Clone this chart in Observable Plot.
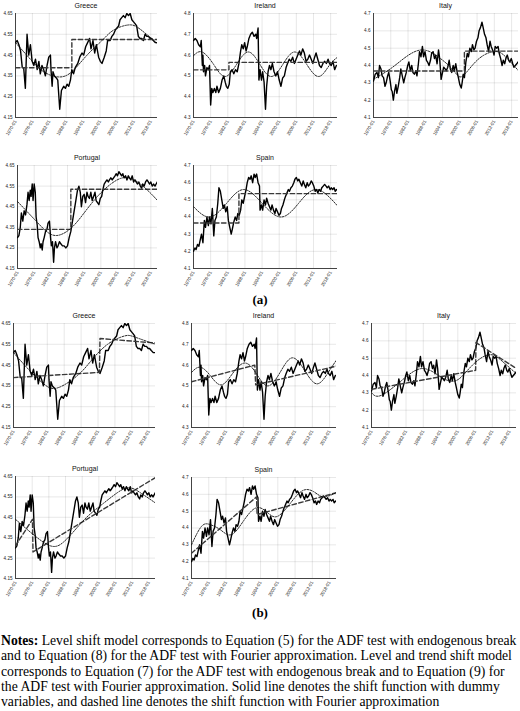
<!DOCTYPE html>
<html><head><meta charset="utf-8">
<script src="https://cdn.jsdelivr.net/npm/d3@7"></script>
<script src="https://cdn.jsdelivr.net/npm/@observablehq/plot@0.6"></script>
<style>
body{margin:0;background:#fff;}
#page{position:relative;width:520px;height:711px;overflow:hidden;background:#fff;font-family:"Liberation Sans",Arial,sans-serif;}
.panel{position:absolute;}
.ttl{position:absolute;font-size:7px;line-height:9px;text-align:center;color:#111;white-space:nowrap;}
.lab{position:absolute;left:0;width:520px;text-align:center;font-family:"Liberation Serif","Times New Roman",serif;font-weight:bold;font-size:13px;line-height:16px;}
#notes{position:absolute;left:1px;top:633px;font-family:"Liberation Serif","Times New Roman",serif;font-size:13.7px;line-height:15.3px;white-space:nowrap;color:#000;}
</style></head>
<body><div id="page"></div>
<script>
// ---------- axes ----------
const xDomain = [1970, 2020.4];
const xTicks = [1970, 1976, 1982, 1988, 1994, 2000, 2006, 2012, 2018];
const yTicksGR = [4.15, 4.25, 4.35, 4.45, 4.55, 4.65];
const yTicksIE = [4.3, 4.4, 4.5, 4.6, 4.7, 4.8];
const yTicksIT = [4.1, 4.2, 4.3, 4.4, 4.5, 4.6, 4.7];
const yTicksPT = [4.15, 4.25, 4.35, 4.45, 4.55, 4.65];
const yTicksES = [4.1, 4.2, 4.3, 4.4, 4.5, 4.6, 4.7];

// ---------- series (log real exchange rate) ----------
const greeceYears = [1970.0,1970.6,1971.2,1971.8,1972.4,1972.9,1973.5,1974.1,1974.7,1975.3,1975.9,1976.5,1977.1,1977.7,1978.3,1978.8,1979.4,1980.0,1980.6,1981.2,1981.8,1982.4,1982.6,1983.0,1983.3,1983.8,1984.5,1985.0,1985.7,1986.3,1987.1,1987.7,1988.3,1988.9,1989.5,1990.0,1990.6,1991.2,1992.1,1992.8,1993.6,1994.2,1994.9,1995.6,1996.3,1996.8,1997.5,1998.1,1998.7,1999.5,2000.1,2000.7,2001.5,2002.2,2002.7,2003.6,2004.2,2004.8,2005.4,2006.0,2006.6,2007.1,2007.7,2008.3,2008.9,2009.5,2010.1,2010.7,2011.3,2011.9,2012.5,2013.0,2013.6,2014.2,2014.8,2015.4,2016.0,2016.6,2017.2,2017.8,2018.3,2018.9,2019.6,2020.1];
const greeceValues = [4.51,4.52,4.50,4.47,4.39,4.39,4.29,4.55,4.45,4.50,4.42,4.40,4.43,4.38,4.42,4.36,4.40,4.38,4.35,4.40,4.44,4.45,4.38,4.30,4.37,4.35,4.34,4.33,4.19,4.28,4.30,4.29,4.31,4.30,4.33,4.38,4.36,4.39,4.41,4.44,4.46,4.45,4.49,4.51,4.53,4.48,4.52,4.46,4.50,4.44,4.42,4.41,4.44,4.47,4.52,4.52,4.54,4.55,4.57,4.58,4.59,4.62,4.63,4.64,4.63,4.65,4.64,4.65,4.62,4.61,4.60,4.59,4.54,4.53,4.53,4.52,4.55,4.54,4.54,4.53,4.53,4.52,4.51,4.51];

const irelandYears = [1970.0,1970.6,1971.2,1971.8,1972.4,1972.7,1973.1,1973.3,1973.5,1973.9,1974.2,1974.7,1975.2,1975.6,1976.0,1976.4,1976.8,1977.3,1977.8,1978.2,1978.8,1979.4,1980.0,1980.6,1981.1,1981.5,1982.0,1982.5,1982.9,1983.5,1984.1,1984.7,1985.3,1985.9,1986.5,1986.9,1987.4,1987.9,1988.4,1988.8,1989.4,1990.0,1990.6,1991.2,1991.8,1992.1,1992.6,1992.9,1993.3,1993.8,1994.2,1994.7,1995.2,1995.6,1996.1,1996.6,1997.1,1997.6,1998.2,1998.8,1999.4,2000.0,2000.6,2001.2,2001.8,2002.4,2002.9,2003.5,2004.1,2004.7,2005.3,2005.9,2006.5,2007.1,2007.6,2008.2,2008.8,2009.4,2010.0,2010.6,2011.2,2011.8,2012.4,2012.9,2013.5,2014.1,2014.7,2015.3,2015.9,2016.5,2017.1,2017.6,2018.2,2018.8,2019.4,2020.0];
const irelandValues = [4.67,4.68,4.67,4.65,4.64,4.67,4.55,4.60,4.52,4.55,4.50,4.54,4.53,4.55,4.36,4.44,4.42,4.44,4.42,4.45,4.42,4.44,4.48,4.50,4.47,4.45,4.44,4.46,4.52,4.53,4.51,4.53,4.52,4.56,4.62,4.65,4.63,4.66,4.62,4.64,4.68,4.70,4.71,4.69,4.70,4.68,4.73,4.48,4.53,4.48,4.52,4.47,4.34,4.45,4.52,4.55,4.53,4.56,4.52,4.50,4.52,4.48,4.45,4.49,4.50,4.54,4.56,4.58,4.57,4.59,4.56,4.58,4.60,4.62,4.60,4.63,4.61,4.57,4.58,4.60,4.58,4.56,4.59,4.61,4.58,4.55,4.54,4.56,4.57,4.56,4.58,4.56,4.55,4.57,4.53,4.55];

const italyYears = [1970.0,1970.6,1971.2,1971.7,1972.1,1972.6,1973.0,1973.5,1974.0,1974.4,1974.9,1975.3,1975.8,1976.2,1976.5,1976.9,1977.3,1977.8,1978.1,1978.6,1979.1,1979.5,1980.0,1980.5,1980.9,1981.4,1981.9,1982.3,1982.8,1983.3,1983.7,1984.2,1984.7,1985.1,1985.6,1986.0,1986.5,1987.0,1987.4,1987.9,1988.4,1988.8,1989.3,1989.8,1990.2,1990.7,1991.2,1991.6,1992.1,1992.6,1993.0,1993.5,1994.0,1994.4,1994.9,1995.3,1995.8,1996.3,1996.7,1997.2,1997.7,1998.1,1998.6,1999.1,1999.5,2000.0,2000.5,2000.8,2001.2,2001.6,2002.1,2002.6,2003.0,2003.5,2004.0,2004.4,2004.9,2005.3,2005.8,2006.3,2006.7,2007.2,2007.7,2008.1,2008.6,2009.1,2009.5,2010.0,2010.5,2010.9,2011.4,2011.9,2012.3,2012.8,2013.3,2013.7,2014.2,2014.7,2015.1,2015.6,2016.0,2016.5,2017.0,2017.4,2017.9,2018.4,2018.8,2019.3,2019.8,2020.2];
const italyValues = [4.31,4.35,4.36,4.33,4.40,4.38,4.34,4.33,4.28,4.30,4.34,4.36,4.31,4.26,4.25,4.20,4.25,4.29,4.24,4.28,4.33,4.38,4.34,4.30,4.33,4.36,4.40,4.42,4.37,4.40,4.36,4.35,4.37,4.34,4.41,4.48,4.45,4.51,4.45,4.48,4.43,4.42,4.40,4.43,4.47,4.48,4.44,4.46,4.41,4.49,4.44,4.32,4.36,4.39,4.38,4.37,4.39,4.43,4.38,4.36,4.40,4.37,4.41,4.36,4.33,4.29,4.27,4.30,4.35,4.33,4.42,4.47,4.45,4.50,4.48,4.52,4.49,4.50,4.54,4.56,4.60,4.62,4.65,4.62,4.58,4.56,4.52,4.48,4.54,4.51,4.49,4.46,4.51,4.50,4.51,4.47,4.44,4.40,4.43,4.41,4.44,4.46,4.43,4.42,4.44,4.41,4.39,4.40,4.41,4.42];

const portugalYears = [1970.0,1970.5,1971.0,1971.4,1971.9,1972.4,1972.9,1973.4,1973.8,1974.2,1974.6,1974.9,1975.3,1975.6,1976.0,1976.4,1976.7,1977.1,1977.4,1977.8,1978.2,1978.5,1978.9,1979.2,1979.6,1980.1,1980.6,1981.0,1981.5,1981.9,1982.2,1982.6,1983.0,1983.3,1983.7,1984.2,1984.6,1985.1,1985.6,1986.2,1986.8,1987.4,1988.0,1988.6,1989.2,1989.8,1990.4,1991.0,1991.6,1992.1,1992.6,1993.0,1993.5,1994.0,1994.5,1995.0,1995.4,1995.9,1996.4,1996.9,1997.4,1997.9,1998.3,1998.8,1999.3,1999.8,2000.3,2000.7,2001.2,2001.7,2002.2,2002.7,2003.1,2003.6,2004.1,2004.6,2005.1,2005.5,2006.0,2006.5,2007.0,2007.5,2007.9,2008.4,2008.9,2009.4,2009.9,2010.3,2010.8,2011.3,2011.8,2012.3,2012.7,2013.2,2013.7,2014.2,2014.7,2015.1,2015.6,2016.1,2016.6,2017.1,2017.5,2018.0,2018.5,2019.0,2019.5,2019.9,2020.3];
const portugalValues = [4.30,4.31,4.35,4.42,4.38,4.43,4.41,4.46,4.52,4.48,4.53,4.50,4.56,4.48,4.56,4.52,4.40,4.36,4.30,4.28,4.25,4.27,4.24,4.28,4.30,4.33,4.34,4.37,4.38,4.30,4.26,4.28,4.18,4.25,4.28,4.25,4.26,4.28,4.27,4.26,4.26,4.25,4.26,4.30,4.33,4.38,4.43,4.48,4.53,4.55,4.52,4.45,4.50,4.51,4.47,4.52,4.50,4.49,4.52,4.48,4.50,4.52,4.48,4.47,4.46,4.49,4.50,4.53,4.56,4.57,4.58,4.57,4.58,4.59,4.58,4.59,4.60,4.61,4.60,4.62,4.61,4.60,4.61,4.59,4.60,4.58,4.60,4.59,4.58,4.60,4.57,4.58,4.57,4.56,4.57,4.55,4.54,4.56,4.55,4.57,4.58,4.57,4.56,4.57,4.55,4.56,4.55,4.56,4.57];

const spainYears = [1970.0,1970.5,1970.9,1971.4,1971.9,1972.4,1972.8,1973.3,1973.8,1974.2,1974.7,1975.2,1975.6,1976.1,1976.6,1977.1,1977.5,1978.0,1978.5,1978.9,1979.4,1979.9,1980.4,1980.8,1981.3,1981.8,1982.2,1982.7,1983.2,1983.6,1984.1,1984.6,1985.1,1985.5,1986.0,1986.5,1986.9,1987.4,1987.9,1988.4,1988.8,1989.3,1989.8,1990.2,1990.7,1991.2,1991.6,1992.1,1992.6,1993.1,1993.3,1993.8,1994.2,1994.7,1995.2,1995.6,1996.1,1996.6,1997.1,1997.5,1998.0,1998.5,1998.9,1999.4,1999.9,2000.4,2000.8,2001.3,2001.8,2002.2,2002.7,2003.2,2003.6,2004.1,2004.6,2005.1,2005.5,2006.0,2006.5,2006.9,2007.4,2007.9,2008.4,2008.8,2009.3,2009.8,2010.2,2010.7,2011.2,2011.6,2012.1,2012.6,2013.1,2013.5,2014.0,2014.5,2014.9,2015.4,2015.9,2016.4,2016.8,2017.3,2017.8,2018.2,2018.7,2019.2,2019.6,2020.1];
const spainValues = [4.20,4.22,4.21,4.24,4.23,4.27,4.30,4.25,4.38,4.34,4.40,4.35,4.40,4.36,4.45,4.29,4.38,4.40,4.48,4.57,4.55,4.50,4.45,4.47,4.43,4.46,4.38,4.34,4.30,4.33,4.37,4.40,4.38,4.42,4.41,4.44,4.50,4.48,4.52,4.56,4.60,4.63,4.62,4.64,4.60,4.65,4.63,4.65,4.60,4.58,4.44,4.47,4.44,4.50,4.47,4.51,4.48,4.46,4.44,4.47,4.44,4.42,4.45,4.43,4.41,4.42,4.45,4.47,4.50,4.52,4.54,4.56,4.55,4.57,4.58,4.60,4.62,4.63,4.61,4.62,4.60,4.58,4.61,4.59,4.57,4.60,4.58,4.59,4.61,4.60,4.58,4.55,4.56,4.54,4.56,4.55,4.57,4.58,4.59,4.58,4.57,4.58,4.56,4.57,4.56,4.57,4.55,4.56];

// ---------- (a) level shift: dummy-break function ----------
const greeceBreakAYears = [1970, 1990.0, 1990.0, 2020.4];
const greeceBreakAValues = [4.389, 4.389, 4.525, 4.525];
const irelandBreakAYears = [1970, 1982.4, 1982.4, 2020.4];
const irelandBreakAValues = [4.529, 4.529, 4.565, 4.565];
const italyBreakAYears = [1970, 2001.6, 2001.6, 2020.4];
const italyBreakAValues = [4.368, 4.368, 4.483, 4.483];
const portugalBreakAYears = [1970, 1989.2, 1989.2, 2020.4];
const portugalBreakAValues = [4.34, 4.34, 4.535, 4.535];
const spainBreakAYears = [1970, 1985.9, 1985.9, 2020.4];
const spainBreakAValues = [4.365, 4.365, 4.536, 4.536];

// ---------- (a) level shift: Fourier function ----------
const greeceFourierAYears = [1970, 1975.3, 1980.0, 1985.3, 1990.0, 1995.4, 2000.7, 2004.8, 2010.1, 2014.2, 2020.4];
const greeceFourierAValues = [4.51, 4.43, 4.37, 4.345, 4.37, 4.45, 4.52, 4.57, 4.595, 4.575, 4.505];
const irelandFourierAYears = [1970, 1973.0, 1977.0, 1981.0, 1985.1, 1989.2, 1993.2, 1997.2, 2001.3, 2005.4, 2009.6, 2013.8, 2017.5, 2020.4];
const irelandFourierAValues = [4.597, 4.615, 4.556, 4.497, 4.556, 4.615, 4.556, 4.497, 4.556, 4.615, 4.556, 4.497, 4.55, 4.59];
const italyFourierAYears = [1970, 1975.8, 1980.5, 1986.9, 1993.3, 1997.9, 2000.5, 2004.3, 2008.4, 2013.0, 2016.5, 2020.4];
const italyFourierAValues = [4.32, 4.38, 4.44, 4.49, 4.44, 4.37, 4.335, 4.40, 4.46, 4.48, 4.44, 4.37];
const portugalFourierAYears = [1970, 1976.0, 1979.6, 1983.8, 1989.2, 1994.0, 1998.8, 2003.6, 2007.8, 2012.0, 2016.8, 2020.4];
const portugalFourierAValues = [4.475, 4.39, 4.34, 4.31, 4.345, 4.42, 4.50, 4.56, 4.59, 4.58, 4.53, 4.48];
const spainFourierAYears = [1970, 1975.7, 1981.6, 1987.6, 1994.0, 2000.6, 2006.8, 2013.1, 2020.4];
const spainFourierAValues = [4.46, 4.40, 4.48, 4.56, 4.48, 4.40, 4.48, 4.56, 4.465];

// ---------- (b) level and trend shift: dummy-break function ----------
const greeceBreakBYears = [1970, 2000.5, 2000.7, 2020.4];
const greeceBreakBValues = [4.39, 4.415, 4.578, 4.556];
const irelandBreakBYears = [1970, 1992.0, 1992.3, 2020.4];
const irelandBreakBValues = [4.52, 4.60, 4.505, 4.595];
const italyBreakBYears = [1970, 2006.2, 2006.3, 2020.4];
const italyBreakBValues = [4.32, 4.43, 4.59, 4.44];
const portugalBreakBYears = [1970, 1976.1, 1976.3, 2020.4];
const portugalBreakBValues = [4.31, 4.44, 4.28, 4.645];
const spainBreakBYears = [1970, 1992.6, 1992.8, 2020.4];
const spainBreakBValues = [4.25, 4.585, 4.48, 4.61];

// ---------- (b) level and trend shift: Fourier function ----------
const greeceFourierBYears = [1970, 1976.0, 1980.7, 1985.5, 1992.7, 1997.5, 2003.4, 2009.4, 2013.0, 2020.4];
const greeceFourierBValues = [4.51, 4.42, 4.36, 4.34, 4.40, 4.47, 4.55, 4.59, 4.585, 4.55];
const irelandFourierBYears = [1970, 1973.0, 1976.5, 1980.3, 1984.3, 1988.5, 1992.5, 1996.5, 2000.8, 2005.0, 2009.3, 2013.5, 2017.3, 2020.4];
const irelandFourierBValues = [4.565, 4.59, 4.55, 4.505, 4.56, 4.61, 4.56, 4.50, 4.565, 4.635, 4.575, 4.51, 4.56, 4.625];
const italyFourierBYears = [1970, 1973.3, 1980.4, 1987.4, 1993.3, 1996.8, 2000.4, 2005.1, 2010.9, 2015.6, 2020.4];
const italyFourierBValues = [4.30, 4.285, 4.37, 4.44, 4.40, 4.37, 4.38, 4.46, 4.52, 4.48, 4.41];
const portugalFourierBYears = [1970, 1976.0, 1982.6, 1987.4, 1992.2, 1996.4, 2001.8, 2006.6, 2010.8, 2015.0, 2020.4];
const portugalFourierBValues = [4.44, 4.37, 4.31, 4.33, 4.40, 4.46, 4.52, 4.57, 4.595, 4.57, 4.52];
const spainFourierBYears = [1970, 1973.5, 1976.5, 1980.0, 1983.8, 1988.0, 1992.5, 1996.5, 2000.0, 2004.5, 2009.0, 2013.0, 2016.0, 2020.4];
const spainFourierBValues = [4.30, 4.41, 4.42, 4.39, 4.36, 4.44, 4.52, 4.49, 4.47, 4.55, 4.625, 4.61, 4.585, 4.61];

// ---------- text ----------
const panelLabels = ["(a)", "(b)"];
const noteLines = [
  "<b>Notes:</b> Level shift model corresponds to Equation (5) for the ADF test with endogenous break",
  "and to Equation (8) for the ADF test with Fourier approximation. Level and trend shift model",
  "corresponds to Equation (7) for the ADF test with endogenous break and to Equation (9) for",
  "the ADF test with Fourier approximation. Solid line denotes the shift function with dummy",
  "variables, and dashed line denotes the shift function with Fourier approximation"
];

// ---------- build ----------
const zip = (xs, ys) => xs.map((x, i) => ({x, y: ys[i]}));
const page = document.getElementById("page");

function panel(o) {
  const mL = 22, mR = 3, mT = 4, mB = 26;
  const w = o.R - o.L + mL + mR, h = o.B - o.T + mT + mB;
  const svg = Plot.plot({
    width: w, height: h,
    marginLeft: mL, marginRight: mR, marginTop: mT, marginBottom: mB,
    style: {fontSize: "4.6px", fontFamily: "'Liberation Sans', Arial, sans-serif", color: "#222", background: "transparent", overflow: "visible", maxWidth: "none"},
    x: {domain: xDomain, ticks: xTicks, tickFormat: d => `${d}-01`, tickRotate: -60, tickSize: 0, tickPadding: 3, grid: true, label: null},
    y: {domain: [o.yt[0], o.yt[o.yt.length - 1]], ticks: o.yt, tickFormat: d => d.toFixed(o.dec), tickSize: 0, tickPadding: 3, grid: true, label: null},
    marks: [
      Plot.ruleX([xDomain[0]], {stroke: "#444", strokeWidth: 1}),
      Plot.ruleY([o.yt[0]], {stroke: "#444", strokeWidth: 1}),
      Plot.line(o.s, {x: "x", y: "y", stroke: "#000", strokeWidth: 1.4, clip: true}),
      Plot.line(o.b, {x: "x", y: "y", stroke: "#3a3a3a", strokeWidth: 1.4, strokeDasharray: "4.5,2.5", clip: true}),
      Plot.line(o.f, {x: "x", y: "y", curve: "natural", stroke: "#111", strokeWidth: 0.9, strokeDasharray: "1.6,1.3", clip: true})
    ]
  });
  const div = document.createElement("div");
  div.className = "panel";
  div.style.left = (o.L - mL) + "px";
  div.style.top = (o.T - mT) + "px";
  div.appendChild(svg);
  page.appendChild(div);
  const t = document.createElement("div");
  t.className = "ttl";
  t.textContent = o.title;
  t.style.left = o.L + "px";
  t.style.width = (o.R - o.L) + "px";
  t.style.top = (o.T - 12) + "px";
  page.appendChild(t);
}

const rows = [
  // (a)
  {title: "Greece",   L: 15,  R: 157, T: 13,  B: 117, yt: yTicksGR, dec: 2, s: zip(greeceYears, greeceValues),     b: zip(greeceBreakAYears, greeceBreakAValues),     f: zip(greeceFourierAYears, greeceFourierAValues)},
  {title: "Ireland",  L: 193, R: 337, T: 13,  B: 117, yt: yTicksIE, dec: 1, s: zip(irelandYears, irelandValues),   b: zip(irelandBreakAYears, irelandBreakAValues),   f: zip(irelandFourierAYears, irelandFourierAValues)},
  {title: "Italy",    L: 373, R: 518, T: 13,  B: 117, yt: yTicksIT, dec: 1, s: zip(italyYears, italyValues),       b: zip(italyBreakAYears, italyBreakAValues),       f: zip(italyFourierAYears, italyFourierAValues)},
  {title: "Portugal", L: 17,  R: 157, T: 165, B: 268, yt: yTicksPT, dec: 2, s: zip(portugalYears, portugalValues), b: zip(portugalBreakAYears, portugalBreakAValues), f: zip(portugalFourierAYears, portugalFourierAValues)},
  {title: "Spain",    L: 193, R: 337, T: 165, B: 268, yt: yTicksES, dec: 1, s: zip(spainYears, spainValues),       b: zip(spainBreakAYears, spainBreakAValues),       f: zip(spainFourierAYears, spainFourierAValues)},
  // (b)
  {title: "Greece",   L: 13,  R: 155, T: 323, B: 427, yt: yTicksGR, dec: 2, s: zip(greeceYears, greeceValues),     b: zip(greeceBreakBYears, greeceBreakBValues),     f: zip(greeceFourierBYears, greeceFourierBValues)},
  {title: "Ireland",  L: 191, R: 336, T: 323, B: 427, yt: yTicksIE, dec: 1, s: zip(irelandYears, irelandValues),   b: zip(irelandBreakBYears, irelandBreakBValues),   f: zip(irelandFourierBYears, irelandFourierBValues)},
  {title: "Italy",    L: 371, R: 516, T: 323, B: 427, yt: yTicksIT, dec: 1, s: zip(italyYears, italyValues),       b: zip(italyBreakBYears, italyBreakBValues),       f: zip(italyFourierBYears, italyFourierBValues)},
  {title: "Portugal", L: 15,  R: 155, T: 476, B: 578, yt: yTicksPT, dec: 2, s: zip(portugalYears, portugalValues), b: zip(portugalBreakBYears, portugalBreakBValues), f: zip(portugalFourierBYears, portugalFourierBValues)},
  {title: "Spain",    L: 191, R: 336, T: 477, B: 578, yt: yTicksES, dec: 1, s: zip(spainYears, spainValues),       b: zip(spainBreakBYears, spainBreakBValues),       f: zip(spainFourierBYears, spainFourierBValues)}
];
rows.forEach(panel);

[[panelLabels[0], 292], [panelLabels[1], 605]].forEach(([txt, top]) => {
  const d = document.createElement("div");
  d.className = "lab";
  d.style.top = top + "px";
  d.textContent = txt;
  page.appendChild(d);
});

const notes = document.createElement("div");
notes.id = "notes";
notes.innerHTML = noteLines.join("<br>");
page.appendChild(notes);
</script>
</body></html>
